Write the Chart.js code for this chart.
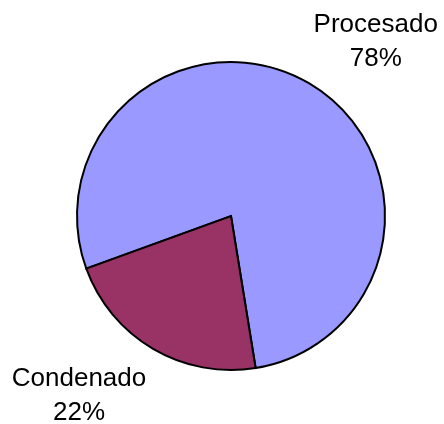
<!DOCTYPE html>
<html lang="es">

<head>
	<meta charset="UTF-8">
	<title>Procesado / Condenado</title>
	<script src="https://cdn.jsdelivr.net/npm/chart.js@4"></script>
	<style>
		html, body { margin: 0; padding: 0; background: #fff; }
		#wrap { width: 444px; height: 424px; }
	</style>
</head>

<body>
	<div id="wrap"><canvas id="ctx"></canvas></div>

	<script>
		// data
		const labels = ['Procesado', 'Condenado'];
		const values = [78, 22];
		const colors = ['#9999FF', '#993366'];

		// label spots, in units of the pie radius, from the pie centre (baseline of first line)
		const labelSpots = [[0.94, -1.195], [-0.987, 1.105]];

		const pieLabels = {
			id: 'pieLabels',
			afterDatasetsDraw(chart) {
				const ctx = chart.ctx;
				const arcs = chart.getDatasetMeta(0).data;
				ctx.save();
				ctx.font = '26px "Liberation Sans", Arial, sans-serif';
				ctx.fillStyle = '#000';
				ctx.textAlign = 'center';
				ctx.textBaseline = 'alphabetic';
				arcs.forEach(function (arc, i) {
					const r = arc.outerRadius;
					const x = arc.x + labelSpots[i][0] * r;
					const y = arc.y + labelSpots[i][1] * r;
					ctx.fillText(labels[i], x, y);
					ctx.fillText(values[i] + '%', x, y + 34);
				});
				ctx.restore();
			}
		};

		new Chart(document.getElementById('ctx'), {
			type: 'pie',
			data: {
				labels: labels,
				datasets: [{
					data: values,
					backgroundColor: colors,
					borderColor: '#000',
					borderWidth: 2,
					borderJoinStyle: 'miter'
				}]
			},
			options: {
				responsive: true,
				maintainAspectRatio: false,
				animation: false,
				rotation: 250,
				layout: { padding: { left: 76, right: 58, top: 61, bottom: 53 } },
				plugins: {
					legend: { display: false },
					tooltip: { enabled: false }
				}
			},
			plugins: [pieLabels]
		});
	</script>

</body>

</html>
